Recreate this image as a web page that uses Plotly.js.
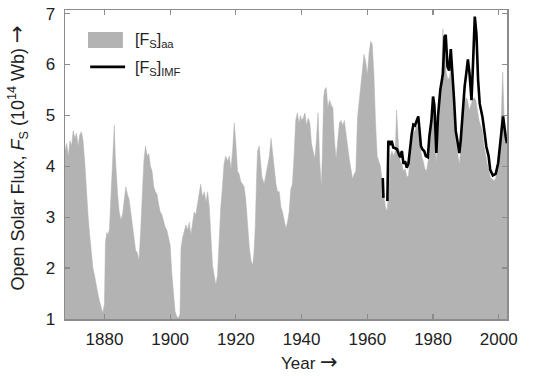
<!DOCTYPE html>
<html>
<head>
<meta charset="utf-8">
<script src="https://cdn.plot.ly/plotly-3.0.1.min.js"></script>
<style>html,body{margin:0;padding:0;background:#fff;}#chart{width:550px;height:383px;}</style>
</head>
<body>
<div id="chart"></div>
<script>
// [Fs]aa open solar flux (10^14 Wb)
const yearsAA = [1868.0,1868.5,1869.0,1869.5,1870.0,1870.5,1871.0,1871.5,1872.0,1872.5,1873.0,1873.5,1874.0,1874.5,1875.0,1875.5,1876.0,1876.5,1877.0,1877.5,1878.0,1878.5,1879.0,1879.5,1880.0,1880.3,1880.7,1881.0,1881.5,1882.0,1882.5,1882.8,1883.0,1883.3,1883.7,1884.0,1884.5,1885.0,1885.5,1886.0,1886.5,1887.0,1887.5,1888.0,1888.5,1889.0,1889.5,1890.0,1890.5,1891.0,1891.5,1892.0,1892.5,1893.0,1893.5,1894.0,1894.5,1895.0,1895.5,1896.0,1896.5,1897.0,1897.5,1898.0,1898.5,1899.0,1899.5,1900.0,1900.5,1901.0,1901.5,1902.0,1902.5,1903.0,1903.3,1903.8,1904.3,1904.8,1905.3,1905.8,1906.3,1906.8,1907.3,1907.8,1908.3,1908.8,1909.3,1909.8,1910.4,1910.9,1911.4,1911.9,1912.4,1912.9,1913.4,1913.9,1914.4,1914.9,1915.4,1915.9,1916.4,1916.9,1917.5,1918.0,1918.5,1919.0,1919.5,1920.0,1920.5,1921.0,1921.5,1922.0,1922.5,1923.0,1923.6,1924.1,1924.6,1925.1,1925.5,1925.9,1926.3,1926.6,1927.1,1927.5,1927.9,1928.6,1929.1,1929.6,1930.2,1930.7,1931.2,1931.7,1932.2,1932.7,1933.2,1933.7,1934.2,1934.7,1935.2,1935.7,1936.2,1936.7,1937.2,1937.7,1938.2,1938.7,1939.2,1939.7,1940.0,1940.5,1941.0,1941.5,1942.0,1942.5,1943.0,1943.5,1944.0,1944.5,1945.0,1945.5,1946.0,1946.3,1946.7,1947.0,1947.5,1948.0,1948.5,1949.0,1949.5,1950.0,1950.5,1951.0,1951.5,1952.0,1952.5,1953.0,1953.5,1954.0,1954.5,1955.0,1955.5,1956.0,1956.5,1957.0,1957.5,1958.0,1958.5,1959.0,1959.5,1960.0,1960.5,1961.0,1961.5,1962.0,1962.5,1963.0,1963.5,1964.0,1964.5,1965.0,1965.5,1966.0,1966.5,1967.0,1967.5,1968.0,1968.5,1968.9,1969.5,1970.0,1970.5,1971.0,1971.5,1972.0,1972.5,1973.0,1973.5,1974.0,1974.5,1975.0,1975.5,1976.0,1976.5,1977.0,1977.5,1978.0,1978.5,1979.0,1979.5,1980.0,1980.5,1981.0,1981.5,1982.0,1982.5,1983.0,1983.2,1983.6,1984.0,1984.5,1985.0,1985.5,1985.9,1986.4,1986.9,1987.4,1988.0,1988.5,1989.0,1989.5,1990.0,1990.5,1991.0,1991.5,1992.0,1992.5,1993.0,1993.5,1994.0,1994.5,1995.0,1995.5,1996.0,1996.5,1997.0,1997.5,1998.0,1998.5,1999.0,1999.5,2000.0,2000.5,2000.9,2001.2,2001.6,2002.0,2002.5];
const fluxAA = [4.3,4.45,4.2,4.5,4.4,4.7,4.55,4.65,4.4,4.62,4.68,4.5,4.1,3.45,3.05,2.65,2.3,2.0,1.85,1.65,1.5,1.35,1.25,1.12,1.3,2.5,2.7,2.65,2.75,3.4,4.1,4.45,4.8,4.2,3.6,3.45,3.1,2.95,3.05,3.3,3.6,3.45,3.35,3.1,2.85,2.6,2.35,2.3,2.15,2.7,3.6,4.1,4.4,4.2,4.25,4.0,3.9,3.6,3.5,3.45,3.25,3.1,3.05,2.9,2.8,2.75,2.6,2.45,1.9,1.5,1.15,1.05,1.02,1.1,2.4,2.6,2.75,2.85,2.75,2.9,2.65,2.9,3.1,3.05,3.25,3.45,3.65,3.4,3.5,3.3,3.5,3.2,2.5,2.05,1.85,1.68,1.85,2.6,3.2,3.6,4.05,4.2,4.1,4.2,3.95,4.3,4.85,4.45,3.9,3.85,3.7,3.65,3.6,3.35,2.7,2.4,2.15,2.05,2.3,2.8,3.8,4.3,4.4,4.0,3.8,3.65,3.85,4.0,4.2,4.55,4.3,3.95,3.65,3.5,3.5,3.2,3.1,2.95,2.78,2.9,3.1,3.55,3.65,4.2,4.9,5.05,4.85,5.0,4.9,4.95,5.05,4.8,4.95,4.85,4.45,4.3,4.15,4.5,5.05,4.1,3.6,4.2,5.35,5.5,5.55,5.15,5.3,5.2,5.15,4.5,4.15,4.5,4.85,4.9,4.8,4.9,4.63,4.4,4.15,3.95,3.75,3.85,3.9,4.95,5.3,5.5,5.9,6.2,6.05,5.8,6.2,6.45,6.4,5.8,4.85,4.2,4.1,4.0,3.7,3.45,3.2,3.12,3.5,4.2,4.3,4.2,4.3,5.1,4.4,4.1,4.05,3.9,3.95,3.8,3.8,4.2,4.5,4.65,4.7,4.8,4.75,4.5,4.2,4.1,3.95,3.9,4.1,4.4,4.9,5.15,4.6,4.05,4.7,5.3,5.5,6.7,5.7,6.3,5.85,5.7,5.75,6.0,5.5,4.9,4.5,4.3,4.03,4.4,5.0,5.2,5.35,5.3,5.1,5.2,5.3,5.35,5.3,5.1,4.9,4.8,4.7,4.4,4.2,4.05,3.9,3.78,3.75,3.72,3.75,3.9,4.1,4.5,5.1,5.85,5.0,4.6,4.4];

// [Fs]IMF open solar flux (10^14 Wb), null marks a data gap
const yearsIMF = [1964.7,1964.9,1965.5,1966.1,1966.4,1967.0,1967.4,1967.9,1968.5,1969.0,1969.5,1970.0,1970.5,1971.0,1971.5,1972.0,1972.5,1972.9,1973.5,1974.0,1974.5,1975.0,1975.5,1975.9,1976.3,1976.8,1977.3,1977.8,1978.4,1978.9,1979.5,1980.0,1980.4,1981.0,1981.5,1982.2,1983.0,1983.5,1983.85,1984.4,1984.9,1985.4,1985.9,1986.4,1986.9,1987.4,1988.0,1988.4,1989.1,1989.6,1990.1,1990.6,1991.1,1991.7,1992.2,1992.7,1993.2,1993.7,1994.2,1995.0,1995.7,1996.2,1996.9,1997.4,1998.2,1999.05,1999.8,2000.6,2001.3,2002.1,2002.5];
const fluxIMF = [3.77,3.38,null,3.32,4.5,4.42,4.5,4.37,4.36,4.34,4.25,4.18,4.3,4.05,4.1,3.97,4.05,4.3,4.63,4.82,4.8,4.89,4.98,4.7,4.4,4.33,4.3,4.2,4.18,4.6,4.9,5.37,5.2,4.26,4.98,5.5,5.82,6.55,6.58,5.95,5.88,6.3,5.88,5.3,4.7,4.5,4.26,4.5,5.23,5.56,5.82,6.1,5.82,5.3,6.08,6.94,6.6,5.7,5.23,4.98,4.65,4.39,4.2,3.93,3.82,3.85,4.06,4.58,4.98,4.58,4.45];

const xTicks = [1880,1900,1920,1940,1960,1980,2000];
const yTicks = [1,2,3,4,5,6,7];
const legendLabels = ['[F<sub>S</sub>]<sub>aa</sub>', '[F<sub>S</sub>]<sub>IMF</sub>'];

const grey = '#b3b3b3';
const frame = '#8c8c8c';
const txt = '#222222';
const fontFam = '"Liberation Sans", Arial, sans-serif';
const arrow = '<span style="font-family:\'DejaVu Sans\';font-size:21px">→</span>';

const traces = [
  {x: yearsAA, y: fluxAA, type: 'scatter', mode: 'lines', fill: 'tozeroy',
   fillcolor: grey, line: {color: grey, width: 0.5}, name: legendLabels[0], hoverinfo: 'skip'},
  {x: yearsIMF, y: fluxIMF, type: 'scatter', mode: 'lines', connectgaps: false,
   line: {color: '#000000', width: 2.6}, name: legendLabels[1], hoverinfo: 'skip'}
];

const layout = {
  width: 550, height: 383,
  margin: {l: 65, r: 43, t: 10, b: 64},
  paper_bgcolor: '#ffffff', plot_bgcolor: '#ffffff',
  showlegend: false,
  font: {family: fontFam, size: 17, color: txt},
  xaxis: {range: [1868, 2002.5], tickvals: xTicks, ticks: 'inside', ticklen: 5, tickwidth: 1.2,
    tickcolor: frame, showline: true, linecolor: frame, linewidth: 1.5, mirror: 'ticks',
    showgrid: false, zeroline: false, ticklabelstandoff: 4,
    tickfont: {family: fontFam, size: 17, color: txt}},
  yaxis: {range: [1, 7.07], tickvals: yTicks, ticks: 'inside', ticklen: 5, tickwidth: 1.2,
    tickcolor: frame, showline: true, linecolor: frame, linewidth: 1.5, mirror: 'ticks',
    showgrid: false, zeroline: false, ticklabelstandoff: 5,
    tickfont: {family: fontFam, size: 17, color: txt}},
  shapes: [
    {type: 'rect', xref: 'paper', yref: 'paper', x0: 0.052, x1: 0.131, y0: 0.877, y1: 0.929,
     fillcolor: grey, line: {width: 0}},
    {type: 'line', xref: 'paper', yref: 'paper', x0: 0.057, x1: 0.136, y0: 0.816, y1: 0.816,
     line: {color: '#000000', width: 2.6}}
  ],
  annotations: [
    {text: legendLabels[0], xref: 'paper', yref: 'paper', x: 0.154, y: 0.900, xanchor: 'left', yanchor: 'middle',
     showarrow: false, font: {family: fontFam, size: 16, color: txt}},
    {text: legendLabels[1], xref: 'paper', yref: 'paper', x: 0.154, y: 0.812, xanchor: 'left', yanchor: 'middle',
     showarrow: false, font: {family: fontFam, size: 16, color: txt}},
    {text: 'Year ' + arrow, xref: 'paper', yref: 'paper', x: 0.554, y: -0.139, xanchor: 'center', yanchor: 'middle',
     showarrow: false, font: {family: fontFam, size: 17, color: txt}},
    {text: 'Open Solar Flux, <i>F</i><sub>S</sub> (10<sup>14</sup> Wb) ' + arrow, xref: 'paper', yref: 'paper',
     x: -0.106, y: 0.52, xanchor: 'center', yanchor: 'middle', textangle: -90,
     showarrow: false, font: {family: fontFam, size: 18, color: txt}}
  ]
};

Plotly.newPlot('chart', traces, layout, {staticPlot: true, displayModeBar: false});
</script>
</body>
</html>
